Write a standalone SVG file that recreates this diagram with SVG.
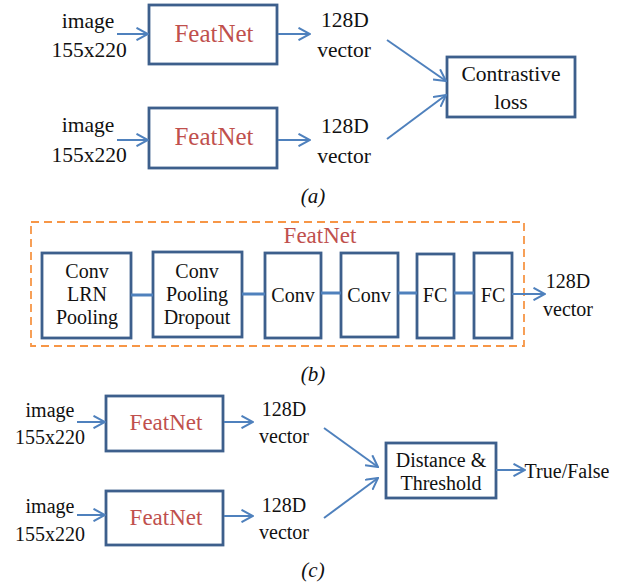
<svg xmlns="http://www.w3.org/2000/svg" width="622" height="584" viewBox="0 0 622 584">
<style>
text{font-family:'Liberation Serif','DejaVu Serif',serif;fill:#111;text-anchor:middle}
.a{font-size:21.5px}
.b{font-size:20px}
.c{font-size:20px}
.red{fill:#c0504d}
.box{fill:#fff;stroke:#3d5f8c;stroke-width:2.8}
.con{fill:none;stroke:#4f81bd;stroke-width:2}
.link{fill:none;stroke:#4f81bd;stroke-width:3}
.cap{font-style:italic;font-size:21px}
</style>
<defs>
<marker id="ar" viewBox="0 0 13 14" refX="12" refY="7" markerWidth="13" markerHeight="14" markerUnits="userSpaceOnUse" orient="auto">
<path d="M0.5,0.8 L12,7 L0.5,13.2" fill="none" stroke="#4f81bd" stroke-width="2"/>
</marker>
</defs>
<rect width="622" height="584" fill="#fff"/>

<!-- (a) -->
<g id="a-img1"><text class="a" x="88" y="28">image</text><text class="a" x="89" y="57">155x220</text></g>
<g id="a-feat1"><rect class="box" x="149" y="5" width="128" height="59"/><text class="red" style="font-size:25px" x="214" y="42">FeatNet</text></g>
<g id="a-vec1"><text class="a" x="345" y="27">128D</text><text class="a" x="344" y="57">vector</text></g>
<g id="a-img2"><text class="a" x="88" y="132">image</text><text class="a" x="89" y="162">155x220</text></g>
<g id="a-feat2"><rect class="box" x="149" y="108" width="128" height="60"/><text class="red" style="font-size:25px" x="214" y="145">FeatNet</text></g>
<g id="a-vec2"><text class="a" x="345" y="133">128D</text><text class="a" x="344" y="163">vector</text></g>
<g id="a-loss"><rect class="box" x="447" y="57" width="128" height="60"/><text class="a" x="511" y="81">Contrastive</text><text class="a" x="511" y="109">loss</text></g>
<text class="cap" x="313" y="203">(a)</text>

<!-- (b) -->
<g id="b-frame"><rect x="31" y="222" width="493" height="124" fill="none" stroke="#f79646" stroke-width="1.8" stroke-dasharray="8,5"/><text class="red" style="font-size:23px" x="320" y="243">FeatNet</text></g>
<g id="b-box1"><rect class="box" x="42" y="253" width="89" height="85"/><text class="b" x="87" y="278">Conv</text><text class="b" x="87" y="301">LRN</text><text class="b" x="87" y="324">Pooling</text></g>
<g id="b-box2"><rect class="box" x="153" y="252" width="89" height="85"/><text class="b" x="197" y="278">Conv</text><text class="b" x="197" y="301">Pooling</text><text class="b" x="197" y="324">Dropout</text></g>
<g id="b-box3"><rect class="box" x="265" y="253" width="56" height="85"/><text class="b" x="293" y="302">Conv</text></g>
<g id="b-box4"><rect class="box" x="341" y="253" width="57" height="84"/><text class="b" x="369" y="302">Conv</text></g>
<g id="b-box5"><rect class="box" x="417" y="254" width="37" height="84"/><text class="b" x="435" y="302">FC</text></g>
<g id="b-box6"><rect class="box" x="474" y="253" width="38" height="85"/><text class="b" x="493" y="302">FC</text></g>
<g id="b-vec"><text class="b" x="568" y="288">128D</text><text class="b" x="568" y="316">vector</text></g>
<text class="cap" x="313" y="381">(b)</text>

<!-- (c) -->
<g id="c-img1"><text class="c" x="50" y="417">image</text><text class="c" x="50" y="444">155x220</text></g>
<g id="c-feat1"><rect class="box" x="106" y="396" width="117" height="55"/><text class="red" style="font-size:23px" x="166" y="430">FeatNet</text></g>
<g id="c-vec1"><text class="c" x="284" y="416">128D</text><text class="c" x="284" y="443">vector</text></g>
<g id="c-img2"><text class="c" x="50" y="513">image</text><text class="c" x="50" y="541">155x220</text></g>
<g id="c-feat2"><rect class="box" x="106" y="491" width="117" height="54"/><text class="red" style="font-size:23px" x="166" y="525">FeatNet</text></g>
<g id="c-vec2"><text class="c" x="284" y="512">128D</text><text class="c" x="284" y="539">vector</text></g>
<g id="c-dist"><rect class="box" x="386" y="443" width="110" height="55"/><text class="c" x="441" y="467">Distance &amp;</text><text class="c" x="441" y="490">Threshold</text></g>
<g id="c-out"><text class="c" x="567" y="478">True/False</text></g>
<text class="cap" x="313" y="577">(c)</text>

<g id="connectors">
<line class="con" x1="117" y1="34" x2="148" y2="34" marker-end="url(#ar)"/>
<line class="con" x1="278" y1="34" x2="310" y2="34" marker-end="url(#ar)"/>
<line class="con" x1="117" y1="140" x2="148" y2="140" marker-end="url(#ar)"/>
<line class="con" x1="278" y1="140" x2="310" y2="140" marker-end="url(#ar)"/>
<line class="con" x1="387" y1="40" x2="446" y2="81" marker-end="url(#ar)"/>
<line class="con" x1="387" y1="139" x2="446" y2="95" marker-end="url(#ar)"/>
<line class="link" x1="131" y1="295" x2="153" y2="295"/>
<line class="link" x1="242" y1="294" x2="265" y2="294"/>
<line class="link" x1="321" y1="293" x2="341" y2="293"/>
<line class="link" x1="398" y1="293" x2="417" y2="293"/>
<line class="link" x1="454" y1="293" x2="474" y2="293"/>
<line class="con" x1="512" y1="294" x2="545" y2="294" stroke-width="2.5" marker-end="url(#ar)"/>
<line class="con" x1="77" y1="422" x2="105" y2="422" marker-end="url(#ar)"/>
<line class="con" x1="224" y1="422" x2="253" y2="422" marker-end="url(#ar)"/>
<line class="con" x1="77" y1="515" x2="105" y2="515" marker-end="url(#ar)"/>
<line class="con" x1="224" y1="516" x2="253" y2="516" marker-end="url(#ar)"/>
<line class="con" x1="324" y1="428" x2="378" y2="467" marker-end="url(#ar)"/>
<line class="con" x1="324" y1="518" x2="378" y2="478" marker-end="url(#ar)"/>
<line class="con" x1="496" y1="470" x2="525" y2="470" marker-end="url(#ar)"/>
</g>
</svg>
